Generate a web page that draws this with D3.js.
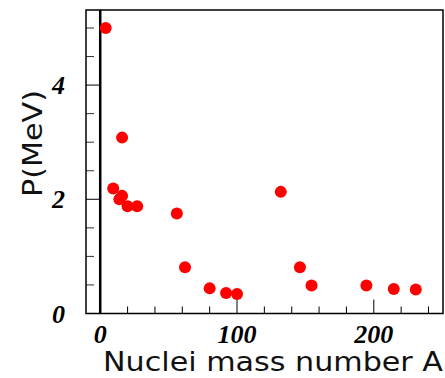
<!DOCTYPE html>
<html><head><meta charset="utf-8">
<script src="https://cdn.jsdelivr.net/npm/d3@7"></script>
<style>body{margin:0;background:#fff}svg{display:block}</style>
</head><body>
<svg id="c" width="445" height="378"></svg>
<script>
const massNumbers = [4, 16, 9.5, 16, 14, 20, 27, 56, 62, 80, 92, 100, 132, 146, 154.5, 194.6, 214.6, 230.7];
const pValues     = [5.0, 3.08, 2.19, 2.06, 2.0, 1.88, 1.88, 1.75, 0.81, 0.44, 0.36, 0.34, 2.13, 0.81, 0.49, 0.49, 0.43, 0.42];
const xTickLabels = [0, 100, 200];
const yTickLabels = [0, 2, 4];
const xTitle = "Nuclei mass number A";
const yTitle = "P(MeV)";

const svg = d3.select("#c");
const L = 86, R = 443, T = 10, B = 313.5;
const x = d3.scaleLinear().domain([-10.4, 250.6]).range([L, R]);
const y = d3.scaleLinear().domain([0, 5.315]).range([B, T]);

// minor / major ticks
const xMinor = d3.range(20, 241, 20).filter(v => v % 100 !== 0);
const xMajor = [0, 100, 200];
const yMinor = d3.range(0.5, 5.01, 0.5).filter(v => v % 2 !== 0);
const yMajor = [2, 4];

const g = svg.append("g");
g.selectAll(".xmin").data(xMinor).join("line")
  .attr("x1", d => x(d)).attr("x2", d => x(d))
  .attr("y1", B).attr("y2", B - 7).attr("stroke", "#000").attr("stroke-width", 1);
g.selectAll(".xmaj").data(xMajor).join("line")
  .attr("x1", d => x(d)).attr("x2", d => x(d))
  .attr("y1", B).attr("y2", B - 14).attr("stroke", "#000").attr("stroke-width", 1);
g.selectAll(".ymin").data(yMinor).join("line")
  .attr("x1", L).attr("x2", L + 8)
  .attr("y1", d => y(d)).attr("y2", d => y(d)).attr("stroke", "#333").attr("stroke-width", 1);
g.selectAll(".ymaj").data(yMajor).join("line")
  .attr("x1", L).attr("x2", L + 14)
  .attr("y1", d => y(d)).attr("y2", d => y(d)).attr("stroke", "#000").attr("stroke-width", 1);

// zero line
g.append("line").attr("x1", x(0)).attr("x2", x(0)).attr("y1", T).attr("y2", B)
  .attr("stroke", "#000").attr("stroke-width", 2.5);

// frame
g.append("rect").attr("x", L).attr("y", T).attr("width", R - L).attr("height", B - T)
  .attr("fill", "none").attr("stroke", "#000").attr("stroke-width", 1.5);

// points
g.selectAll("circle").data(massNumbers.map((m, i) => [m, pValues[i]])).join("circle")
  .attr("cx", d => x(d[0])).attr("cy", d => y(d[1])).attr("r", 6).attr("fill", "#ff0000");

// tick labels
const tf = "'Liberation Serif','DejaVu Serif',serif";
g.selectAll(".xl").data(xTickLabels).join("text")
  .attr("x", d => x(d)).attr("y", 343).attr("text-anchor", "middle")
  .attr("font-family", tf).attr("font-weight", "bold").attr("font-style", "italic")
  .attr("font-size", 26).text(d => d);
g.selectAll(".yl").data(yTickLabels).join("text")
  .attr("x", 65).attr("y", d => y(d) + 9).attr("text-anchor", "end")
  .attr("font-family", tf).attr("font-weight", "bold").attr("font-style", "italic")
  .attr("font-size", 26).text(d => d);

// titles
const sf = "'DejaVu Sans','Open Sans',sans-serif";
g.append("text").attr("x", 103).attr("y", 371).attr("font-family", sf)
  .attr("font-size", 26).attr("textLength", 340).attr("lengthAdjust", "spacingAndGlyphs")
  .attr("fill", "#111").text(xTitle);
g.append("text").attr("transform", "translate(42,197) rotate(-90)")
  .attr("font-family", sf).attr("font-size", 26).attr("textLength", 107)
  .attr("lengthAdjust", "spacingAndGlyphs").attr("fill", "#111").text(yTitle);
</script>
</body></html>
